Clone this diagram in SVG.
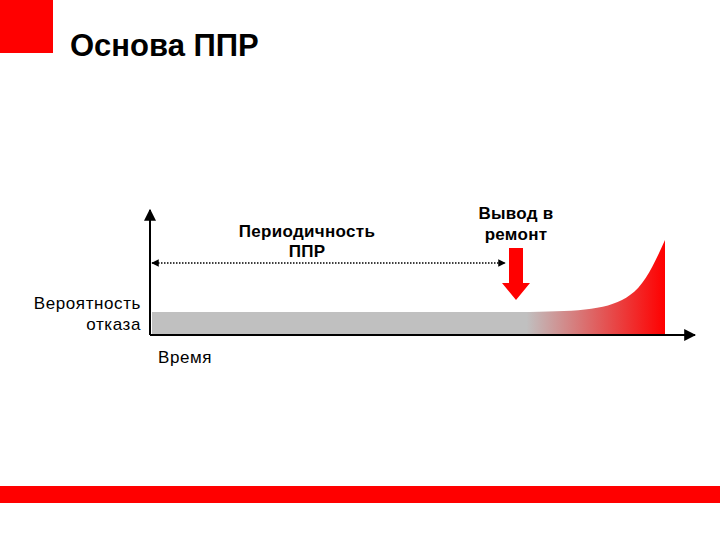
<svg xmlns="http://www.w3.org/2000/svg" width="720" height="540" viewBox="0 0 720 540">
<style>
text{font-family:"Liberation Sans",Arial,sans-serif;fill:#000}
.lbl{font-size:17px;text-anchor:middle;letter-spacing:0.6px}
.b{font-weight:bold;letter-spacing:0.3px}
.ax{stroke:#000;stroke-width:2;fill:none}
</style>
<defs>
<marker id="ah" viewBox="0 0 10 10" refX="9" refY="5" markerWidth="6" markerHeight="6" orient="auto-start-reverse"><path d="M0,0L10,5L0,10z" fill="#000"/></marker>
<marker id="sm" viewBox="0 0 10 10" refX="9" refY="5" markerWidth="5" markerHeight="5" orient="auto-start-reverse"><path d="M0,0L10,5L0,10z" fill="#000"/></marker>
<linearGradient id="g" x1="0" x2="1" y1="0" y2="0"><stop offset="0" stop-color="#c0c0c0"/><stop offset="0.73" stop-color="#c0c0c0"/><stop offset="1" stop-color="#ff0000"/></linearGradient>
</defs>
<rect width="720" height="540" fill="#fff"/>
<rect x="0" y="0" width="53" height="53" fill="#ff0000"/>
<rect x="0" y="486" width="720" height="17" fill="#ff0000"/>
<text x="70" y="56" font-size="31" font-weight="bold">Основа ППР</text>
<g id="curve"><path d="M152,312 H530 C580,311 610,310 630,295 C645,285 655,262 665,240 V335 H152 Z" fill="url(#g)"/></g>
<g id="connectors">
<path class="ax" d="M150,335 V210" marker-end="url(#ah)"/>
<path class="ax" d="M150,335 H695" marker-end="url(#ah)"/>
<path d="M152,263 H505" stroke="#000" stroke-width="1.5" stroke-dasharray="1.5,1.5" fill="none" marker-start="url(#sm)" marker-end="url(#sm)"/>
</g>
<g id="arrow"><path d="M509,248 H523 V283 H530 L516,300 L502,283 H509 Z" fill="#ff0000"/></g>
<g id="labels">
<text class="lbl b" x="307" y="237">Периодичность</text>
<text class="lbl b" x="307" y="257">ППР</text>
<text class="lbl b" x="516" y="219">Вывод в</text>
<text class="lbl b" x="516" y="240">ремонт</text>
<text class="lbl" x="141" y="309" style="text-anchor:end">Вероятность</text>
<text class="lbl" x="141" y="330" style="text-anchor:end">отказа</text>
<text class="lbl" x="158" y="363" style="text-anchor:start">Время</text>
</g>
</svg>
